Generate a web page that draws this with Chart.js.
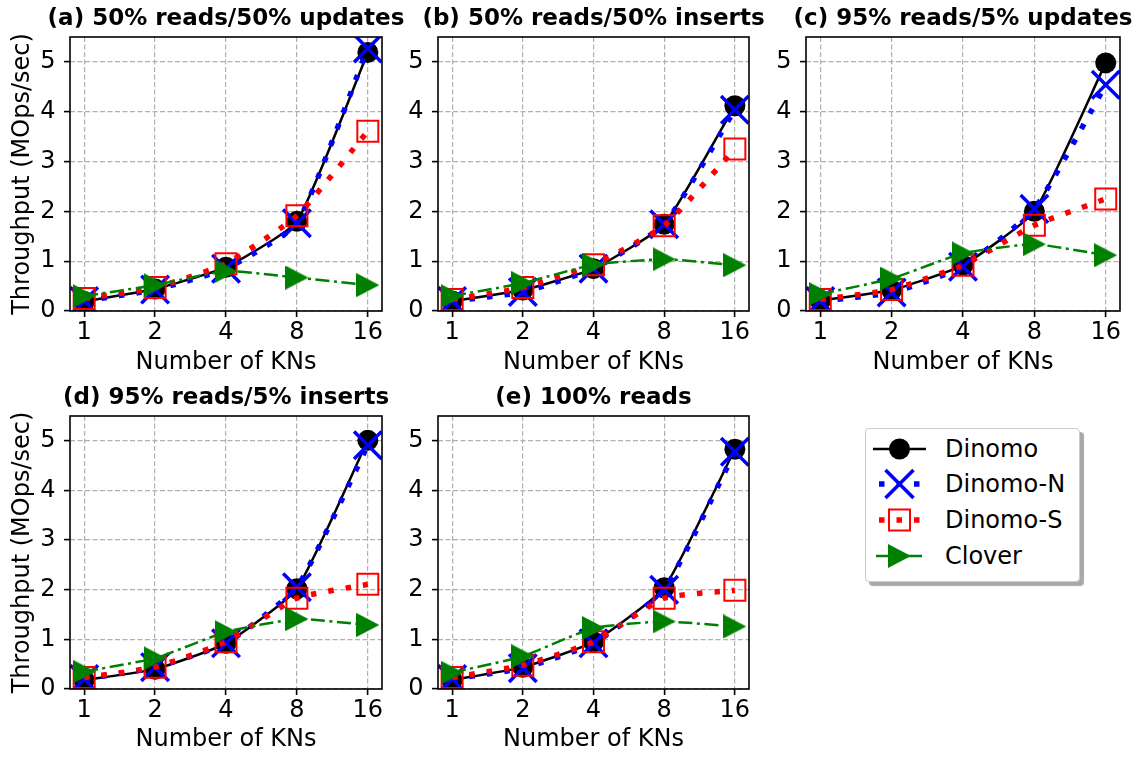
<!DOCTYPE html>
<html lang="en">
<head>
<meta charset="UTF-8">
<title>Throughput vs Number of KNs</title>
<script src="https://cdn.jsdelivr.net/npm/chart.js"></script>
<style>
  body { margin: 0; background: #fff; width: 1143px; height: 757px; position: relative; overflow: hidden; font-family: "DejaVu Sans", sans-serif; }
  canvas { position: absolute; }
  #legend { position: absolute; left: 865px; top: 428px; width: 215px; height: 154px; box-sizing: border-box;
            border: 1px solid #cccccc; border-radius: 4px; background: #fff; box-shadow: 4px 4px 1px #a8a8a8; }
  #legend svg { position: absolute; left: 0; top: 0; }
  .lg { position: absolute; left: 79px; font-size: 24px; line-height: 24px; color: #000; white-space: nowrap; }
</style>
</head>
<body>
<canvas id="chartA" width="405" height="380" style="left:0;top:0"></canvas>
<canvas id="chartB" width="367" height="380" style="left:405px;top:0"></canvas>
<canvas id="chartC" width="371" height="380" style="left:772px;top:0"></canvas>
<canvas id="chartD" width="405" height="377" style="left:0;top:380px"></canvas>
<canvas id="chartE" width="367" height="377" style="left:405px;top:380px"></canvas>

<div id="legend">
  <svg width="80" height="154">
    <line x1="7" y1="20" x2="60" y2="20" stroke="#000" stroke-width="2.5"/>
    <circle cx="33.5" cy="20" r="10.5" fill="#000"/>

    <line x1="13" y1="55" x2="54" y2="55" stroke="#0000ff" stroke-width="5.5" stroke-dasharray="5.5 12"/>
    <line x1="19.5" y1="41" x2="47.5" y2="69" stroke="#0000ff" stroke-width="3.5"/>
    <line x1="19.5" y1="69" x2="47.5" y2="41" stroke="#0000ff" stroke-width="3.5"/>

    <line x1="13" y1="91" x2="54" y2="91" stroke="#ff0000" stroke-width="5.5" stroke-dasharray="5.5 12"/>
    <rect x="23" y="80.5" width="21" height="21" fill="none" stroke="#ff0000" stroke-width="2"/>

    <line x1="10" y1="127" x2="56" y2="127" stroke="#008000" stroke-width="2.5"/>
    <polygon points="22,115 22,139 45,127" fill="#008000"/>
  </svg>
  <div class="lg" style="top:8px">Dinomo</div>
  <div class="lg" style="top:43px">Dinomo-N</div>
  <div class="lg" style="top:79px">Dinomo-S</div>
  <div class="lg" style="top:115px">Clover</div>
</div>

<script>
const knLabels = ['1', '2', '4', '8', '16'];
const xIdx = [0, 1, 2, 3, 4];
const yTicks = [0, 1, 2, 3, 4, 5];
const seriesNames = ['Dinomo', 'Dinomo-N', 'Dinomo-S', 'Clover'];

// (a) 50% reads/50% updates
const dinomoA  = [0.19, 0.44, 0.88, 1.80, 5.19];
const dinomoNA = [0.20, 0.43, 0.85, 1.76, 5.27];
const dinomoSA = [0.25, 0.47, 0.95, 1.91, 3.61];
const cloverA  = [0.30, 0.52, 0.80, 0.67, 0.52];

// (b) 50% reads/50% inserts
const dinomoB  = [0.20, 0.42, 0.85, 1.74, 4.12];
const dinomoNB = [0.20, 0.38, 0.85, 1.74, 4.04];
const dinomoSB = [0.23, 0.47, 0.93, 1.71, 3.25];
const cloverB  = [0.30, 0.56, 0.93, 1.04, 0.92];

// (c) 95% reads/5% updates
const dinomoC  = [0.21, 0.42, 0.92, 2.00, 4.98];
const dinomoNC = [0.20, 0.37, 0.89, 2.05, 4.54];
const dinomoSC = [0.23, 0.43, 0.92, 1.72, 2.25];
const cloverC  = [0.34, 0.65, 1.16, 1.34, 1.12];

// (d) 95% reads/5% inserts
const dinomoD  = [0.18, 0.40, 0.92, 2.02, 5.01];
const dinomoND = [0.20, 0.44, 0.92, 2.05, 4.91];
const dinomoSD = [0.23, 0.44, 0.95, 1.83, 2.11];
const cloverD  = [0.35, 0.62, 1.15, 1.41, 1.29];

// (e) 100% reads
const dinomoE  = [0.18, 0.44, 0.95, 2.04, 4.83];
const dinomoNE = [0.20, 0.42, 0.92, 2.00, 4.78];
const dinomoSE = [0.23, 0.48, 0.95, 1.83, 1.99];
const cloverE  = [0.33, 0.66, 1.23, 1.36, 1.26];

Chart.defaults.font.family = '"DejaVu Sans", sans-serif';
Chart.defaults.font.size = 24;
Chart.defaults.color = '#000';

function makeTriangle(color) {
    const c = document.createElement('canvas');
    c.width = 23; c.height = 24;
    const g = c.getContext('2d');
    g.fillStyle = color;
    g.beginPath();
    g.moveTo(0, 0); g.lineTo(23, 12); g.lineTo(0, 24);
    g.closePath();
    g.fill();
    return c;
}
const cloverMarker = makeTriangle('#008000');

const styles = [
    { borderColor: '#000000', borderWidth: 2.5, pointStyle: 'circle', pointRadius: 10.5,
      pointBackgroundColor: '#000000', pointBorderColor: '#000000', pointBorderWidth: 0, order: 4 },
    { borderColor: '#0000ff', borderWidth: 5.5, borderDash: [5.5, 12], pointStyle: 'crossRot', pointRadius: 19.5,
      pointBorderColor: '#0000ff', pointBorderWidth: 3.5, order: 3 },
    { borderColor: '#ff0000', borderWidth: 5.5, borderDash: [5.5, 12], pointStyle: 'rect', pointRadius: 14.85,
      pointBackgroundColor: 'rgba(0,0,0,0)', pointBorderColor: '#ff0000', pointBorderWidth: 2, order: 2 },
    { borderColor: '#008000', borderWidth: 2.5, borderDash: [14, 4.5, 3, 4.5], pointStyle: cloverMarker, pointRadius: 12,
      order: 1 }
];

// panel title + axes frame
const panelDecor = {
    id: 'panelDecor',
    afterDatasetsDraw(chart, args, opts) {
        const { ctx, chartArea } = chart;
        ctx.save();
        ctx.setLineDash([]);
        ctx.strokeStyle = '#000';
        ctx.lineWidth = 1.6;
        ctx.strokeRect(chartArea.left, chartArea.top, chartArea.right - chartArea.left, chartArea.bottom - chartArea.top);
        ctx.restore();
    },
    afterDraw(chart, args, opts) {
        const { ctx, chartArea } = chart;
        ctx.save();
        ctx.font = 'bold 23px "DejaVu Sans"';
        ctx.fillStyle = '#000';
        ctx.textAlign = 'center';
        ctx.textBaseline = 'middle';
        ctx.fillText(opts.text, (chartArea.left + chartArea.right) / 2, chartArea.top - 18);
        ctx.restore();
    }
};

function drawPanel(id, title, series, p) {
    const datasets = series.map((vals, i) => Object.assign({
        label: seriesNames[i],
        data: vals.map((v, j) => ({ x: xIdx[j], y: v })),
        tension: 0.15,
        fill: false
    }, styles[i]));

    new Chart(document.getElementById(id), {
        type: 'line',
        data: { datasets: datasets },
        plugins: [panelDecor],
        options: {
            responsive: false,
            animation: false,
            layout: { padding: { top: p.top, right: p.right, bottom: 0, left: 0 } },
            plugins: {
                legend: { display: false },
                tooltip: { enabled: false },
                panelDecor: { text: title }
            },
            scales: {
                x: {
                    type: 'linear',
                    min: -0.2,
                    max: 4.2,
                    afterBuildTicks: (axis) => { axis.ticks = xIdx.map(v => ({ value: v })); },
                    afterFit: (scale) => { scale.height = p.xh; },
                    ticks: { padding: 1, autoSkip: false, maxRotation: 0, callback: (v) => knLabels[Math.round(v)] },
                    grid: { color: '#b0b0b0', lineWidth: 1.2, tickLength: 6, tickColor: '#000', tickWidth: 1.6, tickBorderDash: [] },
                    border: { display: false, dash: [5, 2.5] },
                    title: { display: true, text: 'Number of KNs', padding: { top: 0, bottom: 3 } }
                },
                y: {
                    type: 'linear',
                    min: 0,
                    max: 5.5,
                    afterBuildTicks: (axis) => { axis.ticks = yTicks.map(v => ({ value: v })); },
                    afterFit: (scale) => { scale.width = p.yw; },
                    ticks: { padding: 8.5, callback: (v) => String(v) },
                    grid: { color: '#b0b0b0', lineWidth: 1.2, tickLength: 6, tickColor: '#000', tickWidth: 1.6, tickBorderDash: [] },
                    border: { display: false, dash: [5, 2.5] },
                    title: { display: p.ytitle, text: 'Throughput (MOps/sec)', padding: { top: 8, bottom: 0 } }
                }
            }
        }
    });
}

drawPanel('chartA', '(a) 50% reads/50% updates', [dinomoA, dinomoNA, dinomoSA, cloverA],
          { top: 37, right: 6, xh: 69, yw: 70, ytitle: true });
drawPanel('chartB', '(b) 50% reads/50% inserts', [dinomoB, dinomoNB, dinomoSB, cloverB],
          { top: 37, right: 5, xh: 69, yw: 33, ytitle: false });
drawPanel('chartC', '(c) 95% reads/5% updates', [dinomoC, dinomoNC, dinomoSC, cloverC],
          { top: 37, right: 8, xh: 69, yw: 34, ytitle: false });
drawPanel('chartD', '(d) 95% reads/5% inserts', [dinomoD, dinomoND, dinomoSD, cloverD],
          { top: 36, right: 6, xh: 68, yw: 70, ytitle: true });
drawPanel('chartE', '(e) 100% reads', [dinomoE, dinomoNE, dinomoSE, cloverE],
          { top: 36, right: 5, xh: 68, yw: 33, ytitle: false });
</script>
</body>
</html>
